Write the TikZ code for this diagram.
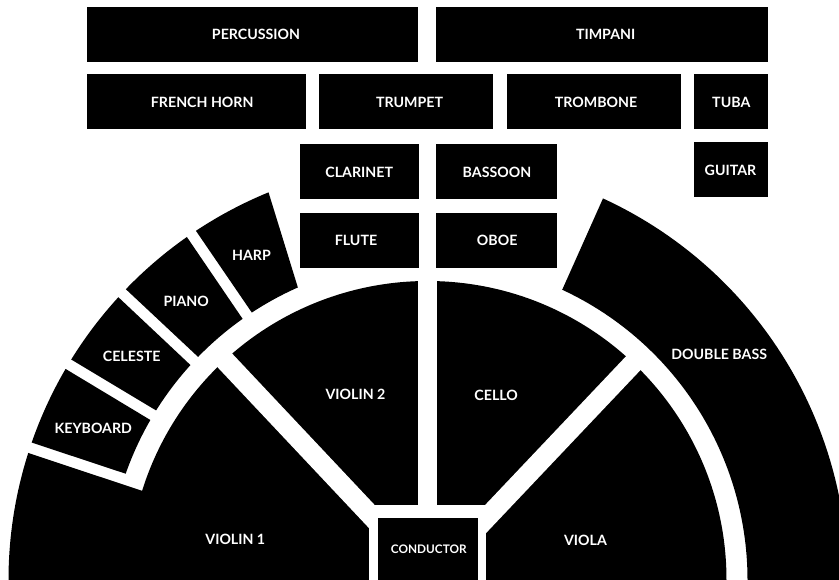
\documentclass[tikz,border=0pt]{standalone}
\usepackage{fontspec}
\setmainfont{Lato}
\begin{document}
\begin{tikzpicture}[x=1pt,y=1pt,
  box/.style={fill=black,inner sep=0pt,outer sep=0pt,minimum height=54.6pt},
  lbl/.style={text=white,inner sep=0pt,font=\bfseries\fontsize{14.2}{16}\selectfont},
  smalllbl/.style={text=white,inner sep=0pt,font=\bfseries\fontsize{11.8}{14}\selectfont},
  gapline/.style={draw=white,line width=20pt}]
\useasboundingbox (0,0) rectangle (839,579);
\clip (0,0) rectangle (839,579);
% rectangular sections
\node[box,minimum width=331.3pt] (percbox) at (252.35,544.5) {};
\node[box,minimum width=332pt] (timpbox) at (602,544.5) {};
\node[box,minimum width=218.7pt] (hornbox) at (196.35,477.65) {};
\node[box,minimum width=174pt] (trptbox) at (406,477.65) {};
\node[box,minimum width=173.7pt] (trbnbox) at (593.85,477.65) {};
\node[box,minimum width=74pt] (tubabox) at (731,477.65) {};
\node[box,minimum width=119pt] (clarbox) at (359.5,407.5) {};
\node[box,minimum width=120.7pt] (bassbox) at (496.35,407.5) {};
\node[box,minimum width=74pt] (guitbox) at (731,409.5) {};
\node[box,minimum width=119pt] (flutbox) at (359.5,338.65) {};
\node[box,minimum width=120.7pt] (oboebox) at (496.35,338.65) {};
% semicircle
\coordinate (C) at (427.5,-1);
\begin{scope}[shift={(C)}]
 \fill (0,0) -- (-1:299) arc[start angle=-1,end angle=181,radius=299] -- cycle;
 \fill (162.35:419) arc[start angle=162.35,end angle=181,radius=419] -- (181:200) -- (162.65:299) -- cycle;
 \fill (149.75:419) arc[start angle=149.75,end angle=160.85,radius=419] -- (160.6:320) arc[start angle=160.6,end angle=150.0,radius=320] -- cycle;
 \fill (137.55:419) arc[start angle=137.55,end angle=148.25,radius=419] -- (148.0:320) arc[start angle=148.0,end angle=137.8,radius=320] -- cycle;
 \fill (125.05:419) arc[start angle=125.05,end angle=136.05,radius=419] -- (135.8:320) arc[start angle=135.8,end angle=125.3,radius=320] -- cycle;
 \fill (112.3:419) arc[start angle=112.3,end angle=123.55,radius=419] -- (123.3:320) arc[start angle=123.3,end angle=113.9,radius=320] -- cycle;
 \fill (-2:420) arc[start angle=-2,end angle=65.3,radius=420] -- (65.1:320) arc[start angle=65.1,end angle=-2,radius=320] -- cycle;
 \coordinate (vgapA) at (0,60);
 \coordinate (vgapB) at (0,306);
 \draw[draw=white,line width=19pt] (vgapA) -- (vgapB);
 \coordinate (lgapA) at (-43,50);
 \coordinate (lgapB) at (-209.9,227.3);
 \draw[gapline] (lgapA) -- (lgapB);
 \coordinate (rgapA) at (47.7,50);
 \coordinate (rgapB) at (211.7,223.1);
 \draw[gapline] (rgapA) -- (rgapB);
 \fill[white] (-58.5,-5) rectangle (58.5,75);
\end{scope}
\node[box,minimum width=99.4pt,minimum height=64pt] (condbox) at (428,29) {};
% labels
\node[lbl] (perc) at (256,545) {PERCUSSION};
\node[lbl] (timp) at (605.7,545) {TIMPANI};
\node[lbl] (horn) at (202.2,476.7) {FRENCH HORN};
\node[lbl] (trpt) at (409.5,477) {TRUMPET};
\node[lbl] (trbn) at (596,477) {TROMBONE};
\node[lbl] (tuba) at (731.3,477) {TUBA};
\node[lbl] (clar) at (359.2,406.7) {CLARINET};
\node[lbl] (bass) at (497,407) {BASSOON};
\node[lbl] (guit) at (730.5,409) {GUITAR};
\node[lbl] (flut) at (356,339) {FLUTE};
\node[lbl] (oboe) at (497.2,339) {OBOE};
\node[smalllbl] (cond) at (428.8,30) {CONDUCTOR};
\node[lbl] (vln2) at (355.5,184.3) {VIOLIN 2};
\node[lbl] (cello) at (496.2,183.7) {CELLO};
\node[lbl] (vln1) at (235.3,39.3) {VIOLIN 1};
\node[lbl] (viola) at (585.5,39) {VIOLA};
\node[lbl] (dbass) at (719.2,224.3) {DOUBLE BASS};
\node[lbl] (harp) at (251.5,323.7) {HARP};
\node[lbl] (piano) at (186.2,278) {PIANO};
\node[lbl] (celeste) at (131.7,222.3) {CELESTE};
\node[lbl] (keyb) at (93.3,150.3) {KEYBOARD};
\end{tikzpicture}
\end{document}
